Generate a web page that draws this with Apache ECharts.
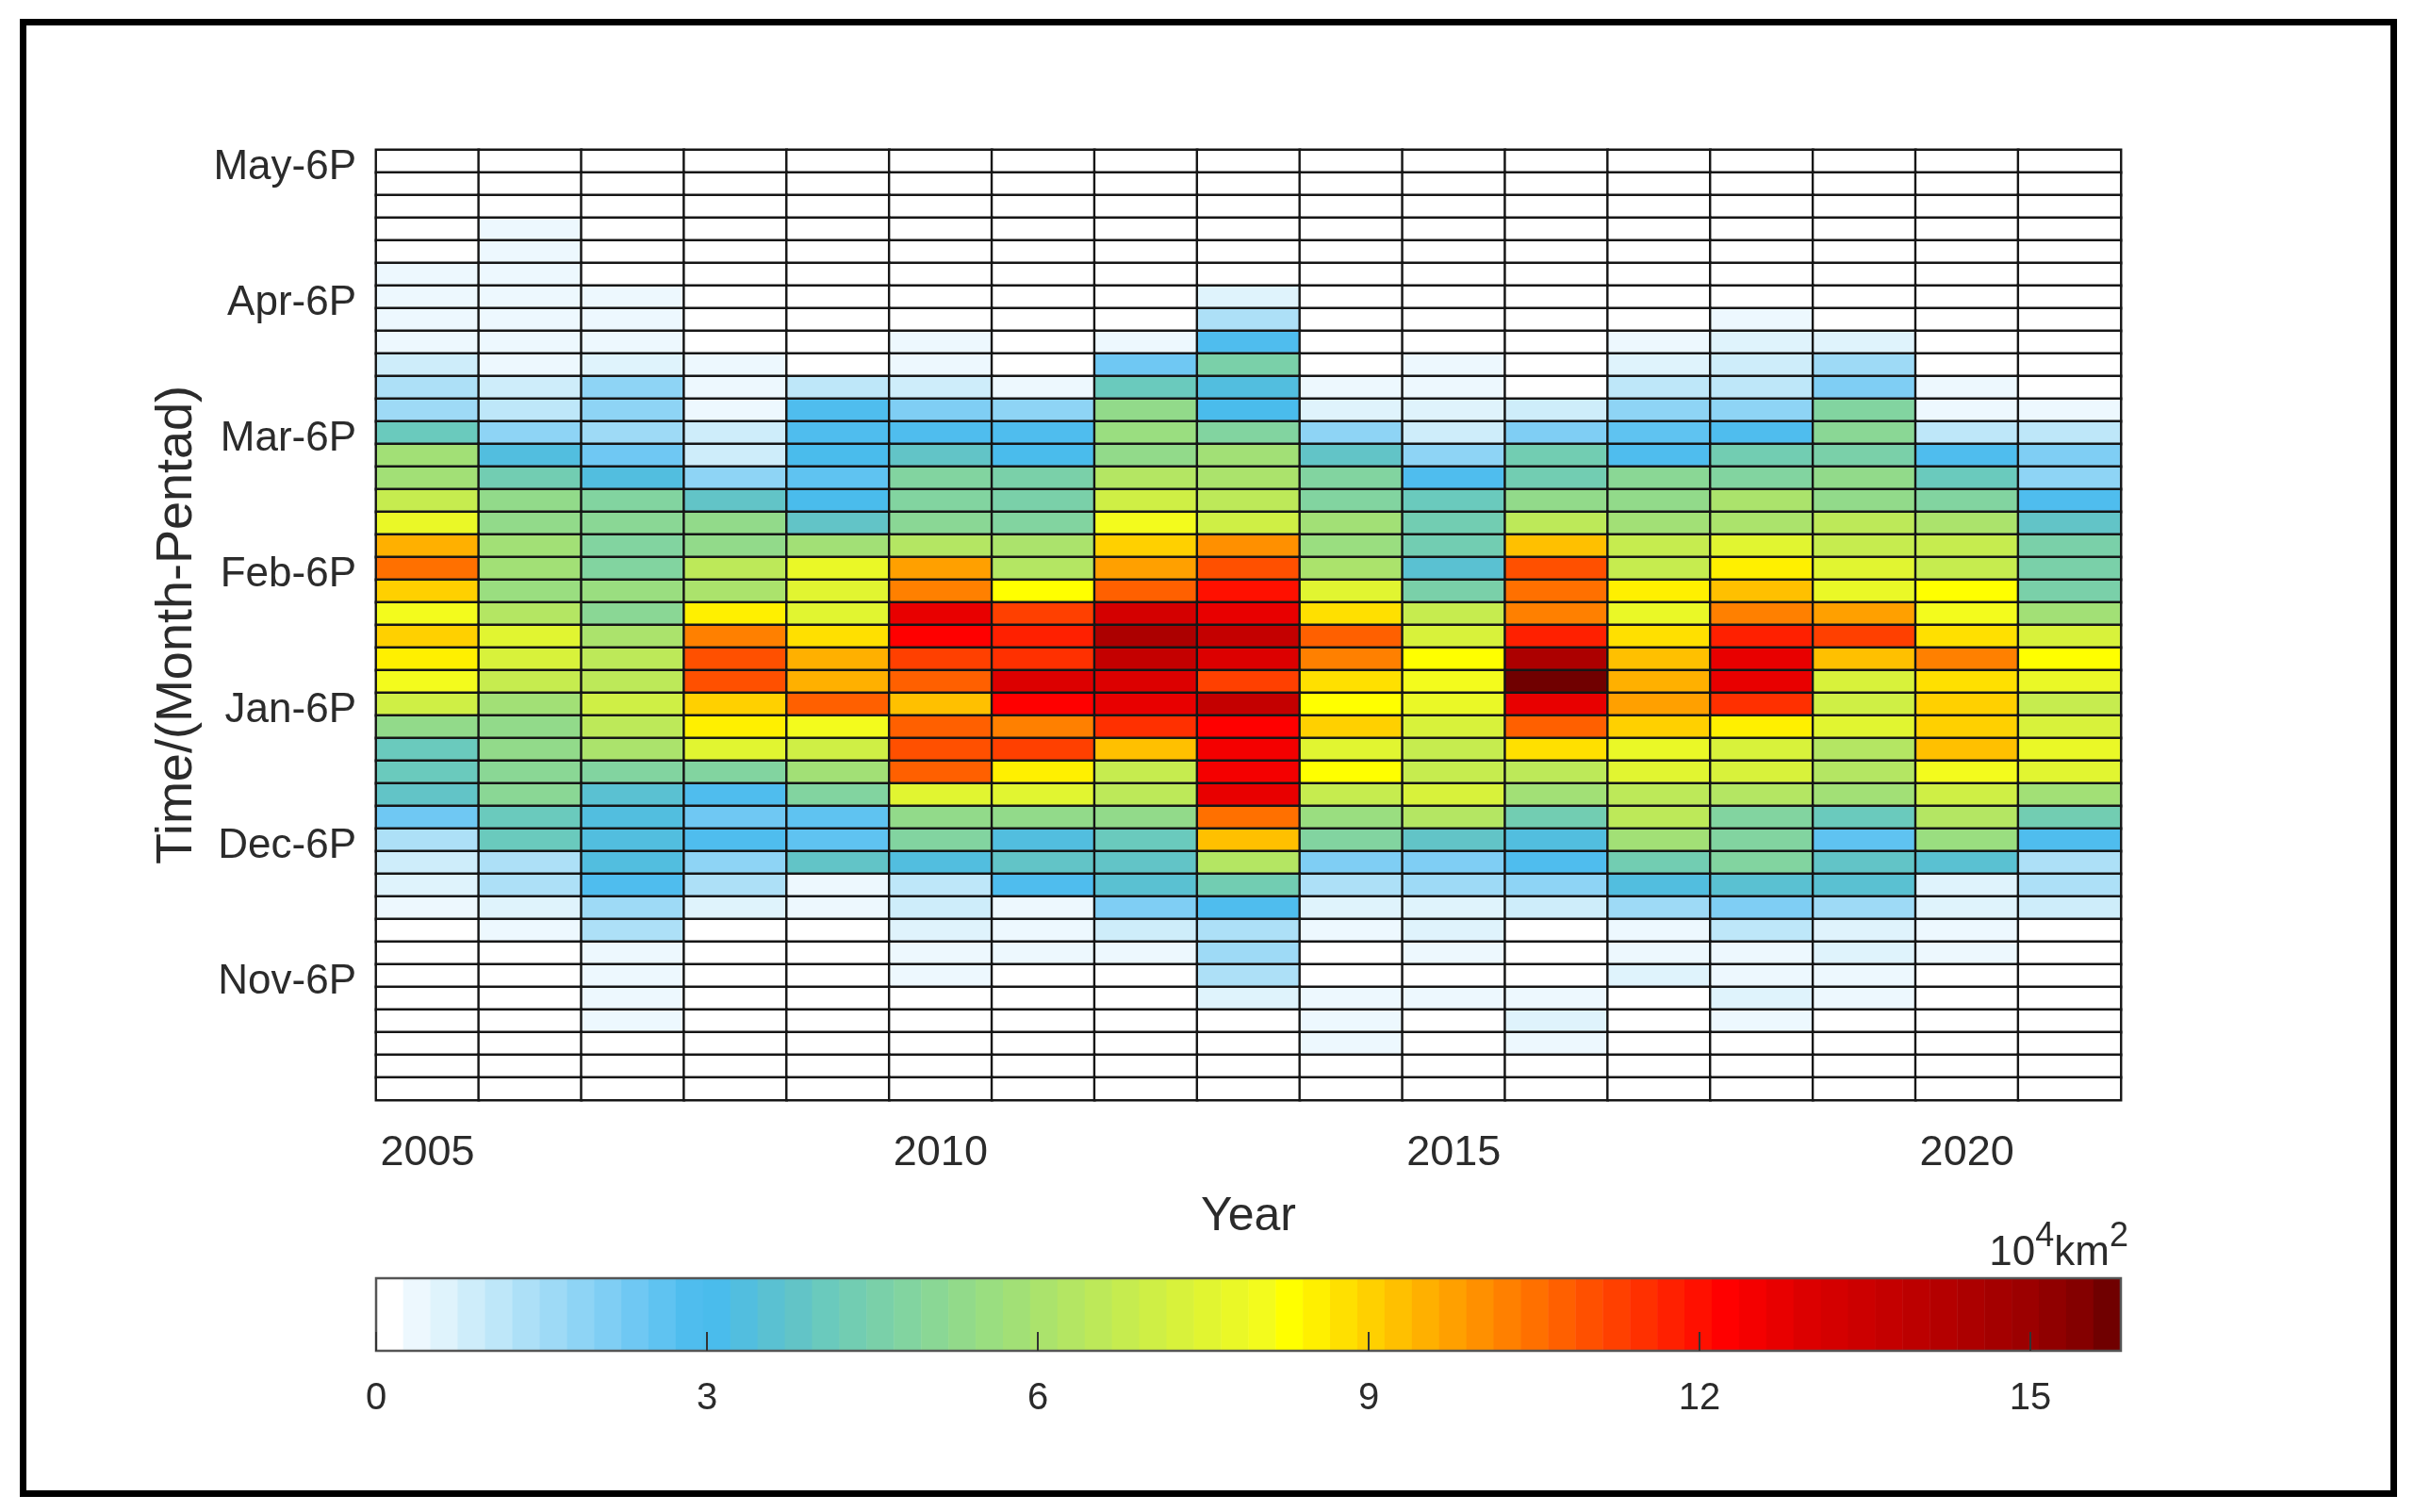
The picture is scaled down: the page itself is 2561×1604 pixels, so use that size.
<!DOCTYPE html>
<html><head><meta charset="utf-8">
<style>html,body{margin:0;padding:0;background:#fff}#c{width:2561px;height:1604px}</style>
<script src="https://cdn.jsdelivr.net/npm/echarts@6/dist/echarts.min.js"></script>
</head><body><div id="c"></div>
<script>
const years = ['2005','2006','2007','2008','2009','2010','2011','2012','2013','2014','2015','2016','2017','2018','2019','2020','2021'];
const months = ['May','Apr','Mar','Feb','Jan','Dec','Nov'];
const pentads = ['6P','5P','4P','3P','2P','1P'];
const colorTicks = [0,3,6,9,12,15];
const colorMax = 15.82;
const levelStep = 0.25;

const mayRows = [
 [0,0,0,0,0,0,0,0,0,0,0,0,0,0,0,0,0],
 [0,0,0,0,0,0,0,0,0,0,0,0,0,0,0,0,0],
 [0,0,0,0,0,0,0,0,0,0,0,0,0,0,0,0,0],
 [0,.4,0,0,0,0,0,0,0,0,0,0,0,0,0,0,0],
 [0,.4,0,0,0,0,0,0,0,0,0,0,0,0,0,0,0],
 [.4,.4,0,0,0,0,0,0,0,0,0,0,0,0,0,0,0]];
const aprRows = [
 [.4,.4,.4,0,0,0,0,0,.6,0,0,0,0,0,0,0,0],
 [.4,.4,.4,0,0,0,0,0,1.4,0,0,0,0,.4,0,0,0],
 [.4,.4,.4,0,0,.4,0,.4,2.9,0,0,0,.4,.6,.6,0,0],
 [.9,.4,.6,.4,0,.4,0,2.4,4.6,0,.4,0,.6,.9,1.6,0,0],
 [1.4,.9,1.9,.4,1.1,.9,.4,4.1,3.4,.4,.4,0,1.1,1.1,2.1,.4,0],
 [1.6,1.1,1.9,.4,2.9,2.1,1.9,5.3,3.1,.6,.6,.9,1.9,1.9,4.9,.4,.4]];
const marRows = [
 [4.1,1.9,1.6,.9,3,3,3,5.6,4.9,1.9,.9,2.1,2.6,3,5.1,1.1,1.1],
 [5.8,3.4,2.4,.9,3.1,3.9,3.1,5.4,5.9,3.9,1.9,4.3,3,4.4,4.6,3,2.1],
 [6,4.3,3.4,1.9,2.6,4.8,4.7,6.5,6.1,4.9,3,4.5,5.2,5,5.4,4.1,1.9],
 [7,5.3,4.9,3.9,3.1,5,4.7,7.2,6.6,4.8,4.1,5.5,5.3,6.2,5.5,4.8,3],
 [7.8,5.3,5.1,5.3,3.9,5.2,4.9,8.1,7.1,5.8,4.5,6.7,6,6.2,6.7,6.2,4],
 [9.6,6,4.9,5.5,6,6.5,6.2,9.1,10.1,5.7,4.5,9.4,6.8,7.6,6.8,6.8,4.6]];
const febRows = [
 [10.6,6,4.8,6.7,8,9.9,6.4,9.9,11.1,6.1,3.6,11.2,6.9,8.6,7.7,7,4.6],
 [9.1,5.6,5.6,6.2,7.7,10.3,8.3,11,12.1,7.6,4.6,10.7,8.6,9.4,7.9,8.3,4.6],
 [8.1,6.5,5.2,8.6,7.6,12.9,11.3,13.4,13,8.9,7,10.5,8,10.5,9.8,8.1,6],
 [9.1,7.7,6.2,10.3,8.9,12.4,11.9,14.6,14,10.9,7.4,11.9,8.9,11.9,11.4,8.9,7.3],
 [8.7,7.4,6.7,11.1,9.6,11.4,11.6,13.9,13.1,10.5,8.3,14.6,9.3,12.9,9.4,10.3,8.3],
 [8.1,7,6.6,11.1,9.6,10.9,13.1,13.2,11.4,8.9,8.1,15.8,9.6,12.9,7.4,8.9,7.9]];
const janRows = [
 [7.2,6,7.2,9.1,10.8,9.4,12.4,12.8,13.9,8.3,7.9,12.9,9.9,11.6,7.2,9.2,7],
 [5.3,5.3,6.7,8.6,8.1,10.8,10.5,11.6,12.4,9.1,7.5,11,9.1,8.6,7.6,9.2,7.4],
 [4.1,5.5,6.1,7.7,7.2,11.1,11.3,9.4,12.7,7.7,7,8.9,7.9,7.4,6.4,9.4,7.8],
 [4.1,5.2,4.8,4.8,6,10.8,8.6,7,12.6,8.3,6.8,6.6,7.6,7.4,6.3,8.1,7.7],
 [3.9,5.2,3.6,3,4.8,7.6,7.6,6.6,12.9,6.8,7.4,5.8,6.7,6.4,5.8,7.2,6],
 [2.4,4.1,3.4,2.4,2.7,5.5,5.4,5.5,10.6,5.6,6.3,4.5,6.6,4.8,4.1,6.3,4.3]];
const decRows = [
 [1.4,4.1,3.4,3,2.6,4.9,3.3,4.1,9.4,4.8,3.9,3.4,6,4.9,2.6,5.6,3],
 [.9,1.4,3.4,1.9,3.9,3.4,4,3.9,6.3,2.1,2.2,3,4.4,4.9,3.9,3.6,1.4],
 [.6,1.4,3,1.4,.4,1.1,3,3.6,4.3,1.4,1.6,1.9,3.3,3.6,3.6,.6,1.4],
 [.4,.6,1.6,.6,.4,.9,.4,2.2,2.9,.6,.6,.9,1.6,2.2,1.6,.6,.9],
 [0,.4,1.4,0,0,.6,.4,.9,1.4,.4,.6,0,.4,1.1,.6,.4,0],
 [0,0,.4,0,0,.4,.4,.4,1.6,0,.4,0,.4,.4,.6,.4,0]];
const novRows = [
 [0,0,.4,0,0,.4,0,0,1.4,0,0,0,.6,.4,.4,0,0],
 [0,0,.4,0,0,0,0,0,.6,.4,.4,.4,0,.6,.4,0,0],
 [0,0,.4,0,0,0,0,0,0,.4,0,.6,0,.4,0,0,0],
 [0,0,0,0,0,0,0,0,0,.4,0,.4,0,0,0,0,0],
 [0,0,0,0,0,0,0,0,0,0,0,0,0,0,0,0,0],
 [0,0,0,0,0,0,0,0,0,0,0,0,0,0,0,0,0]];

const levelColors = ['#FFFFFF','#EDF8FE','#DFF3FC','#CEEDFA','#BEE7F9','#ADE0F7','#9EDAF6','#8ED4F5',
 '#7FCEF4','#6FC8F3','#5FC3F1','#4FBDEE','#4ABCEC','#52BEDF','#5AC1D2','#62C4C7',
 '#6ACABD','#72CDB2','#7AD0A9','#82D4A0','#8AD795','#92DA8A','#9ADE80','#A2E076',
 '#ABE36C','#B4E663','#BDE959','#C6EC4F','#CFEF45','#D8F23B','#E1F531','#EAF827',
 '#F3FB1D','#FFFF00','#FFF000','#FFE000','#FFD000','#FFC000','#FFB000','#FFA000',
 '#FF9000','#FF8000','#FF7000','#FF6000','#FF5000','#FF4000','#FF3000','#FF2000',
 '#FF1000','#FF0000','#F40000','#E80000','#DC0000','#D40000','#CC0000','#C40000',
 '#BC0000','#B40000','#AC0000','#A40000','#9C0000','#900000','#840000','#700000'];

const rows = [...mayRows,...aprRows,...marRows,...febRows,...janRows,...decRows,...novRows];
const rowLabels = months.flatMap(m => pentads.map(p => m + '-' + p));
const cells = [];
rows.forEach((r, j) => r.forEach((v, i) => cells.push([i, j, v])));
const levelNames = levelColors.map((_, i) => String(i));
const levelCells = levelColors.map((_, i) => [i, 0, (i + 0.5) * levelStep]);
const pieces = levelColors.map((c, i) => ({min: i * levelStep, max: (i + 1) * levelStep, color: c}));

const font = '"Liberation Sans", Arial, sans-serif';
const ink = '#2b2b2b';
const chart = echarts.init(document.getElementById('c'), null, {renderer: 'canvas'});
chart.setOption({
  animation: false,
  backgroundColor: '#fff',
  textStyle: {fontFamily: font, color: ink},
  graphic: [{type: 'rect', silent: true, shape: {x: 24.5, y: 23.5, width: 2515, height: 1561},
    style: {fill: 'none', stroke: '#000', lineWidth: 7}}],
  title: {
    text: '{b|10}{s|4}{b|km}{s|2}', right: 303, top: 1294, padding: 0,
    textStyle: {fontWeight: 'normal', rich: {
      b: {fontFamily: font, fontSize: 44, fontWeight: 'normal', color: ink, lineHeight: 58, verticalAlign: 'bottom'},
      s: {fontFamily: font, fontSize: 36, fontWeight: 'normal', color: ink, lineHeight: 58, verticalAlign: 'top'}
    }}
  },
  grid: [
    {left: 399, top: 159, width: 1851, height: 1008, containLabel: false},
    {left: 399, top: 1356, width: 1851, height: 77, show: true, backgroundColor: 'transparent',
     borderColor: '#555', borderWidth: 2.5, z: 6}
  ],
  xAxis: [
    {type: 'category', gridIndex: 0, data: years, position: 'bottom', splitArea: {show: false},
     axisLine: {show: false}, axisTick: {show: false}, splitLine: {show: false},
     axisLabel: {interval: 4, fontSize: 45, fontFamily: font, color: ink, margin: 34},
     name: 'Year', nameLocation: 'middle', nameGap: 99,
     nameTextStyle: {fontSize: 50, fontFamily: font, color: ink}},
    {type: 'category', gridIndex: 1, data: levelNames, position: 'top', show: false},
    {type: 'value', gridIndex: 1, min: 0, max: colorMax, position: 'bottom', z: 7,
     axisLine: {show: false}, splitLine: {show: false},
     axisTick: {show: true, inside: true, length: 20, customValues: colorTicks,
       lineStyle: {color: '#333', width: 2}},
     axisLabel: {fontSize: 40, fontFamily: font, color: ink, margin: 31, customValues: colorTicks}}
  ],
  yAxis: [
    {type: 'category', gridIndex: 0, data: rowLabels, inverse: true,
     axisLine: {show: false}, axisTick: {show: false}, splitLine: {show: false},
     axisLabel: {interval: 5, fontSize: 44, fontFamily: font, color: ink, margin: 21, verticalAlign: 'top', lineHeight: 13},
     name: 'Time/(Month-Pentad)', nameLocation: 'middle', nameGap: 184, nameRotate: 90,
     nameTextStyle: {fontSize: 54, fontFamily: font, color: ink}},
    {type: 'category', gridIndex: 1, data: ['bar'], show: false}
  ],
  visualMap: {type: 'piecewise', show: false, dimension: 2, seriesIndex: [0, 1], pieces: pieces},
  series: [
    {type: 'heatmap', xAxisIndex: 0, yAxisIndex: 0, data: cells, progressive: 0, z: 2,
     itemStyle: {borderColor: '#161616', borderWidth: 2.4},
     emphasis: {disabled: true}, label: {show: false}},
    {type: 'heatmap', xAxisIndex: 1, yAxisIndex: 1, data: levelCells, progressive: 0, z: 2,
     itemStyle: {borderWidth: 0}, emphasis: {disabled: true}, label: {show: false}}
  ]
});
</script></body></html>
